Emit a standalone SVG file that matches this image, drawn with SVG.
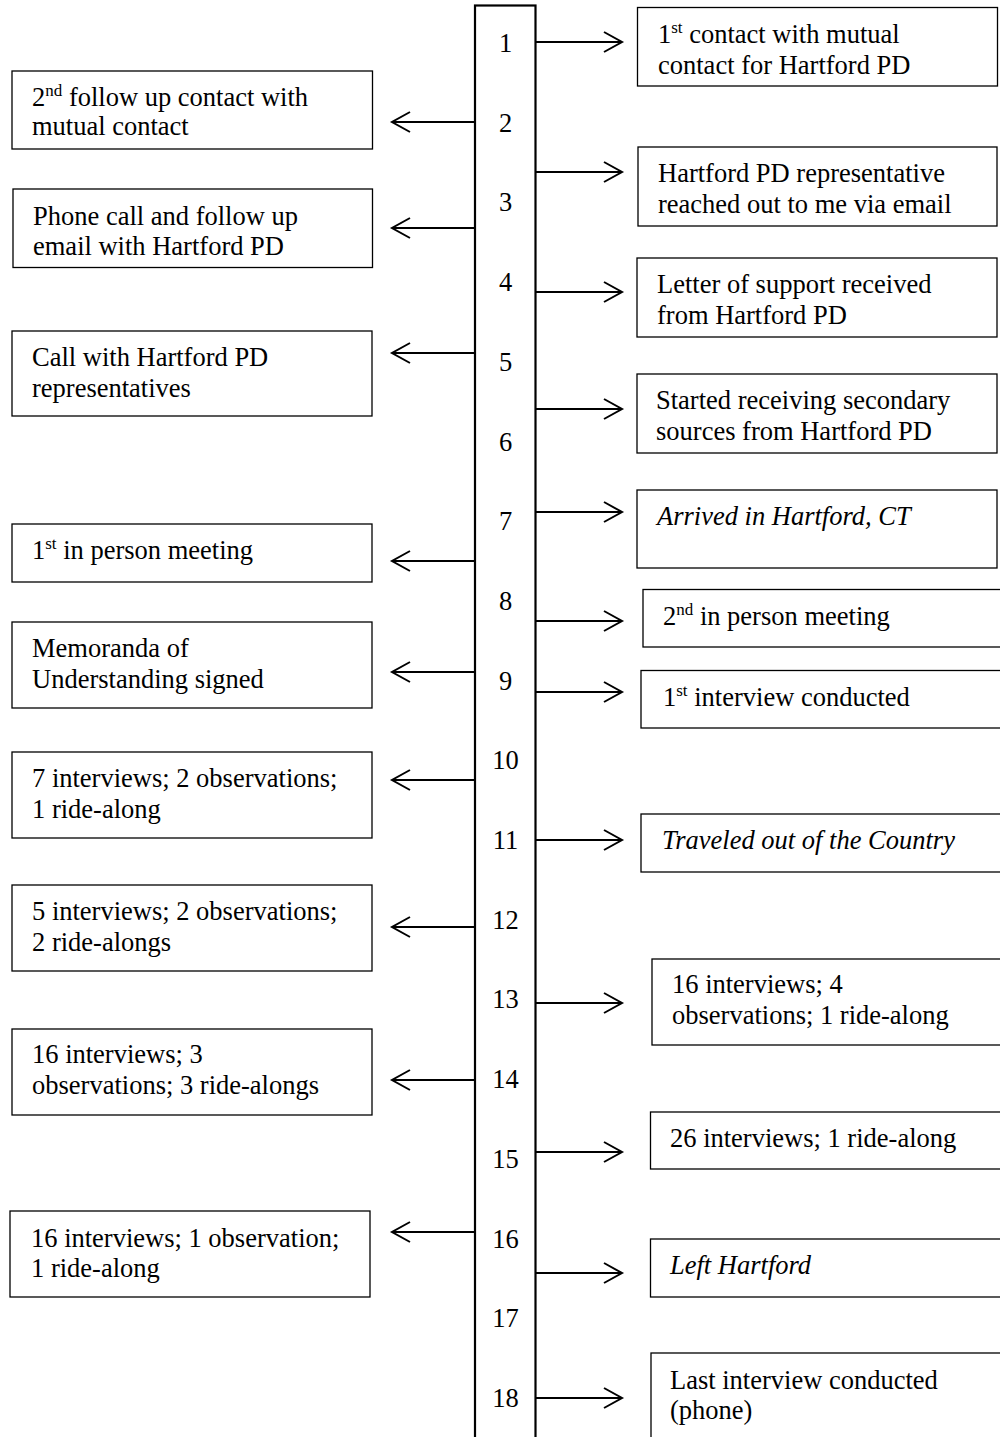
<svg xmlns="http://www.w3.org/2000/svg" width="1000" height="1437" viewBox="0 0 1000 1437">
<style>
  text { font-family: "Liberation Serif", "Times New Roman", serif; font-size: 26.5px; fill: #000; }
  .num { text-anchor: middle; }
  .it { font-style: italic; }
  .box { fill: #fff; stroke: #000; stroke-width: 1.3; }
  .bar { fill: none; stroke: #000; stroke-width: 2.2; }
  .conn { stroke: #000; stroke-width: 2; fill: none; marker-end: url(#chev); }
  .sup { font-size: 17px; }
</style>
<defs>
  <marker id="chev" markerUnits="userSpaceOnUse" markerWidth="24" markerHeight="24" viewBox="-20 -12 24 24" refX="0" refY="0" orient="auto" overflow="visible">
    <path d="M-18,-10 L0,0 L-18,10" fill="none" stroke="#000" stroke-width="2"/>
  </marker>
</defs>
<rect width="1000" height="1437" fill="#fff"/>

<g id="timeline">
  <rect class="bar" x="475" y="5.5" width="60.5" height="1460"/>
  <text class="num" x="505.5" y="52">1</text>
  <text class="num" x="505.5" y="131.7">2</text>
  <text class="num" x="505.5" y="211.4">3</text>
  <text class="num" x="505.5" y="291.1">4</text>
  <text class="num" x="505.5" y="370.8">5</text>
  <text class="num" x="505.5" y="450.5">6</text>
  <text class="num" x="505.5" y="530.2">7</text>
  <text class="num" x="505.5" y="609.9">8</text>
  <text class="num" x="505.5" y="689.6">9</text>
  <text class="num" x="505.5" y="769.3">10</text>
  <text class="num" x="505.5" y="849">11</text>
  <text class="num" x="505.5" y="928.7">12</text>
  <text class="num" x="505.5" y="1008.4">13</text>
  <text class="num" x="505.5" y="1088.1">14</text>
  <text class="num" x="505.5" y="1167.8">15</text>
  <text class="num" x="505.5" y="1247.5">16</text>
  <text class="num" x="505.5" y="1327.2">17</text>
  <text class="num" x="505.5" y="1406.9">18</text>
</g>

<g id="connectors">
  <line class="conn" x1="536" y1="42" x2="622" y2="42"/>
  <line class="conn" x1="536" y1="172" x2="622" y2="172"/>
  <line class="conn" x1="536" y1="292" x2="622" y2="292"/>
  <line class="conn" x1="536" y1="409" x2="622" y2="409"/>
  <line class="conn" x1="536" y1="512" x2="622" y2="512"/>
  <line class="conn" x1="536" y1="621" x2="622" y2="621"/>
  <line class="conn" x1="536" y1="692" x2="622" y2="692"/>
  <line class="conn" x1="536" y1="840" x2="622" y2="840"/>
  <line class="conn" x1="536" y1="1003" x2="622" y2="1003"/>
  <line class="conn" x1="536" y1="1152" x2="622" y2="1152"/>
  <line class="conn" x1="536" y1="1273" x2="622" y2="1273"/>
  <line class="conn" x1="536" y1="1398" x2="622" y2="1398"/>

  <line class="conn" x1="475" y1="122" x2="392" y2="122"/>
  <line class="conn" x1="475" y1="228" x2="392" y2="228"/>
  <line class="conn" x1="475" y1="353" x2="392" y2="353"/>
  <line class="conn" x1="475" y1="561" x2="392" y2="561"/>
  <line class="conn" x1="475" y1="672" x2="392" y2="672"/>
  <line class="conn" x1="475" y1="780" x2="392" y2="780"/>
  <line class="conn" x1="475" y1="927" x2="392" y2="927"/>
  <line class="conn" x1="475" y1="1080" x2="392" y2="1080"/>
  <line class="conn" x1="475" y1="1232" x2="392" y2="1232"/>
</g>

<!-- Right nodes -->
<g id="r1">
  <rect class="box" x="637.5" y="7.5" width="360" height="78.5"/>
  <text x="658" y="43">1<tspan class="sup" dy="-10">st</tspan><tspan dy="10"> contact with mutual</tspan></text>
  <text x="658" y="74">contact for Hartford PD</text>
</g>
<g id="r2">
  <rect class="box" x="638" y="147" width="359" height="79"/>
  <text x="658" y="182">Hartford PD representative</text>
  <text x="658" y="213">reached out to me via email</text>
</g>
<g id="r3">
  <rect class="box" x="637" y="258" width="360" height="79"/>
  <text x="657" y="293">Letter of support received</text>
  <text x="657" y="324">from Hartford PD</text>
</g>
<g id="r4">
  <rect class="box" x="637" y="374" width="360" height="79"/>
  <text x="656" y="409">Started receiving secondary</text>
  <text x="656" y="440">sources from Hartford PD</text>
</g>
<g id="r5">
  <rect class="box" x="637" y="490" width="360" height="78"/>
  <text class="it" x="657" y="525">Arrived in Hartford, CT</text>
</g>
<g id="r6">
  <rect class="box" x="643" y="589.5" width="380" height="57.5"/>
  <text x="663" y="625">2<tspan class="sup" dy="-10">nd</tspan><tspan dy="10"> in person meeting</tspan></text>
</g>
<g id="r7">
  <rect class="box" x="641" y="670.5" width="380" height="57.5"/>
  <text x="663" y="706">1<tspan class="sup" dy="-10">st</tspan><tspan dy="10"> interview conducted</tspan></text>
</g>
<g id="r8">
  <rect class="box" x="641" y="814" width="380" height="58"/>
  <text class="it" x="662" y="849">Traveled out of the Country</text>
</g>
<g id="r9">
  <rect class="box" x="652" y="959" width="370" height="86"/>
  <text x="672" y="993">16 interviews; 4</text>
  <text x="672" y="1024">observations; 1 ride-along</text>
</g>
<g id="r10">
  <rect class="box" x="650.5" y="1112" width="370" height="57"/>
  <text x="670" y="1147">26 interviews; 1 ride-along</text>
</g>
<g id="r11">
  <rect class="box" x="650.5" y="1239" width="370" height="58"/>
  <text class="it" x="670" y="1274">Left Hartford</text>
</g>
<g id="r12">
  <rect class="box" x="651" y="1353" width="370" height="110"/>
  <text x="670" y="1389">Last interview conducted</text>
  <text x="670" y="1419">(phone)</text>
</g>

<!-- Left nodes -->
<g id="l1">
  <rect class="box" x="12" y="71" width="360.5" height="78"/>
  <text x="32" y="106">2<tspan class="sup" dy="-10">nd</tspan><tspan dy="10"> follow up contact with</tspan></text>
  <text x="32" y="135">mutual contact</text>
</g>
<g id="l2">
  <rect class="box" x="13" y="189" width="359.5" height="78.5"/>
  <text x="33" y="225">Phone call and follow up</text>
  <text x="33" y="255">email with Hartford PD</text>
</g>
<g id="l3">
  <rect class="box" x="12" y="331" width="360" height="85"/>
  <text x="32" y="366">Call with Hartford PD</text>
  <text x="32" y="397">representatives</text>
</g>
<g id="l4">
  <rect class="box" x="12" y="524" width="360" height="58"/>
  <text x="32" y="559">1<tspan class="sup" dy="-10">st</tspan><tspan dy="10"> in person meeting</tspan></text>
</g>
<g id="l5">
  <rect class="box" x="12" y="622" width="360" height="86"/>
  <text x="32" y="657">Memoranda of</text>
  <text x="32" y="688">Understanding signed</text>
</g>
<g id="l6">
  <rect class="box" x="12" y="752" width="360" height="86"/>
  <text x="32" y="787">7 interviews; 2 observations;</text>
  <text x="32" y="818">1 ride-along</text>
</g>
<g id="l7">
  <rect class="box" x="12" y="885" width="360" height="86"/>
  <text x="32" y="920">5 interviews; 2 observations;</text>
  <text x="32" y="951">2 ride-alongs</text>
</g>
<g id="l8">
  <rect class="box" x="12" y="1029" width="360" height="86"/>
  <text x="32" y="1063">16 interviews; 3</text>
  <text x="32" y="1094">observations; 3 ride-alongs</text>
</g>
<g id="l9">
  <rect class="box" x="10" y="1211" width="360" height="86"/>
  <text x="31" y="1247">16 interviews; 1 observation;</text>
  <text x="31" y="1277">1 ride-along</text>
</g>
</svg>
